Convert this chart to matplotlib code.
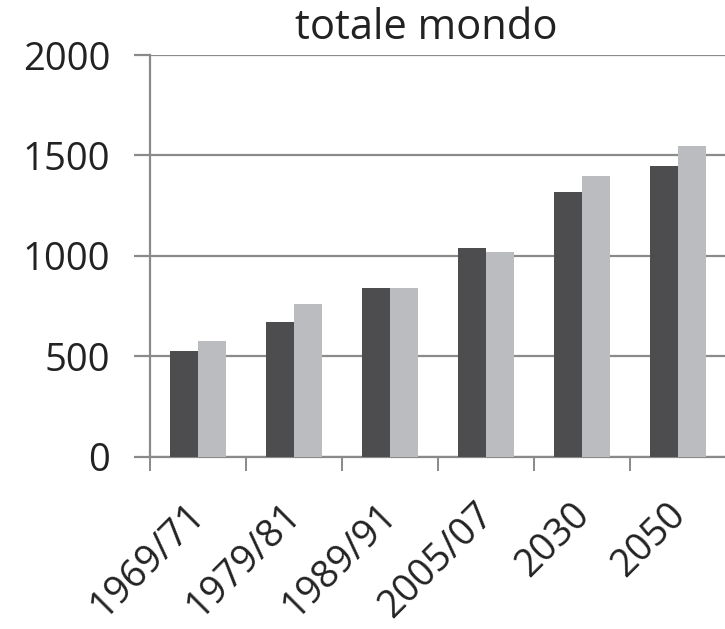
import matplotlib
matplotlib.use("Agg")
import matplotlib.pyplot as plt
import matplotlib.transforms as mtransforms
import numpy as np

categories = ["1969/71", "1979/81", "1989/91", "2005/07", "2030", "2050"]
series_dark = [526, 672, 838, 1038, 1320, 1445]
series_light = [576, 760, 838, 1021, 1398, 1547]
yticks = [0, 500, 1000, 1500, 2000]

plt.rcParams['font.family'] = ['Open Sans', 'DejaVu Sans']

fig = plt.figure(figsize=(7.25, 6.29), dpi=100)
ax = fig.add_axes([150/725, 1-456.7/629, 576/725, 401.7/629])

x = np.arange(len(categories))
w = 0.295
grid_c = '#8a8a8a'
text_c = '#222222'
ax.bar(x - w/2, series_dark, width=w, color='#4d4d4f', zorder=3)
ax.bar(x + w/2, series_light, width=w, color='#bbbcbf', zorder=3)

ax.set_xlim(-0.5, len(categories) - 0.5)
ax.set_ylim(0, 2000)
ax.set_yticks(yticks)
ax.set_yticklabels([str(v) for v in yticks], fontsize=27.5, color=text_c)
ax.yaxis.grid(True, color=grid_c, linewidth=1.6, zorder=0)
ax.tick_params(axis='y', length=11.5, width=1.6, color=grid_c, pad=17)

ax.set_xticks(np.arange(len(categories) + 1) - 0.5)
ax.set_xticklabels([])
ax.tick_params(axis='x', length=10, width=1.4, color=grid_c)
ax.set_xticks(x, minor=True)
ax.set_xticklabels(categories, minor=True, rotation=45, ha='right', va='top',
                   rotation_mode='anchor', fontsize=27.5, color=text_c)
ax.tick_params(axis='x', which='minor', length=0, pad=24)
offset = mtransforms.ScaledTranslation(-0.12, -0.06, fig.dpi_scale_trans)
for lbl in ax.get_xticklabels(minor=True):
    lbl.set_transform(lbl.get_transform() + offset)

for s in ['top', 'right']:
    ax.spines[s].set_visible(False)
for s in ['left', 'bottom']:
    ax.spines[s].set_color(grid_c)
    ax.spines[s].set_linewidth(1.6)

fig.text(426.5/725, 1-39/629, "totale mondo", ha='center', va='baseline',
         fontsize=30, color=text_c)

fig.savefig("out.png", dpi=100)
